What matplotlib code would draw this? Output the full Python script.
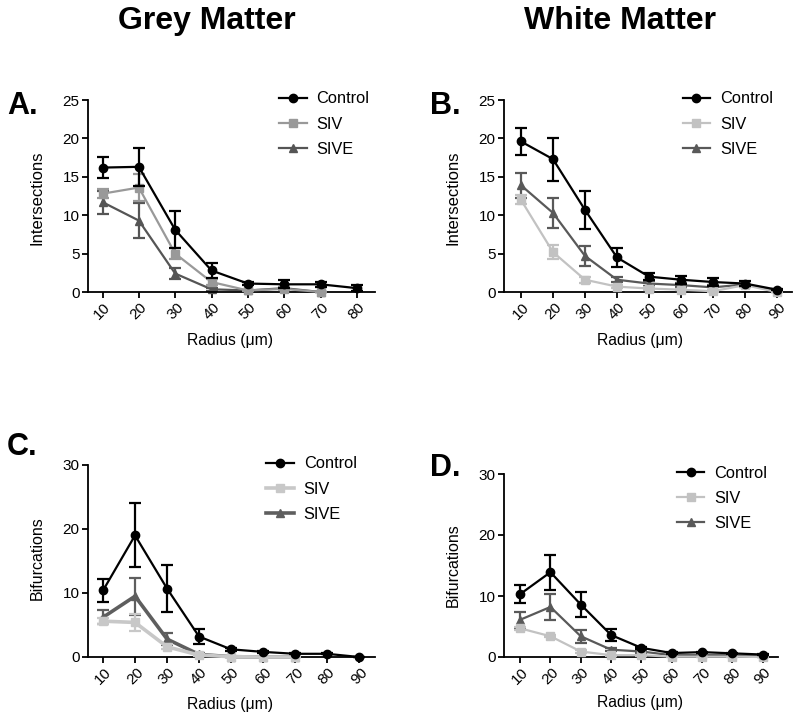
import matplotlib
matplotlib.use("Agg")
import matplotlib.pyplot as plt

plt.rcParams['font.family'] = ['Liberation Sans', 'DejaVu Sans']

# ---------------- data ----------------
radius_A = [10, 20, 30, 40, 50, 60, 70, 80]
radius_A_short = [10, 20, 30, 40, 50, 60, 70]
radius_9 = [10, 20, 30, 40, 50, 60, 70, 80, 90]
radius_C_short = [10, 20, 30, 40, 50, 60, 70]

ctrl_A = [16.2, 16.3, 8.1, 2.8, 1.1, 1.0, 1.0, 0.5]
ctrl_A_err = [1.4, 2.5, 2.4, 1.0, 0.2, 0.5, 0.3, 0.4]
siv_A = [12.8, 13.6, 5.0, 1.3, 0.2, 0.4, 0.0]
siv_A_err = [0.6, 1.8, 0.7, 0.4, 0.1, 0.2, 0.0]
sive_A = [11.7, 9.3, 2.4, 0.35, 0.2, 0.5, 0.0]
sive_A_err = [1.5, 2.3, 0.7, 0.2, 0.1, 0.2, 0.0]

ctrl_B = [19.6, 17.3, 10.7, 4.5, 2.0, 1.6, 1.3, 1.1, 0.3]
ctrl_B_err = [1.7, 2.8, 2.5, 1.2, 0.5, 0.5, 0.5, 0.3, 0.1]
siv_B = [12.0, 5.2, 1.6, 0.7, 0.45, 0.3, 0.1, 0.9, 0.0]
siv_B_err = [0.6, 0.9, 0.4, 0.2, 0.2, 0.1, 0.1, 0.3, 0.0]
sive_B = [13.9, 10.3, 4.7, 1.6, 1.1, 0.9, 0.6, 1.0, 0.1]
sive_B_err = [1.6, 2.0, 1.3, 0.3, 0.3, 0.3, 0.3, 0.3, 0.1]

ctrl_C = [10.4, 19.0, 10.7, 3.2, 1.2, 0.8, 0.5, 0.5, 0.0]
ctrl_C_err = [1.8, 5.0, 3.6, 1.1, 0.2, 0.1, 0.1, 0.1, 0.0]
siv_C = [5.6, 5.4, 1.6, 0.3, 0.05, 0.0, 0.0]
siv_C_err = [0.5, 1.3, 0.4, 0.1, 0.0, 0.0, 0.0]
sive_C = [6.2, 9.5, 2.8, 0.4, 0.05, 0.0, 0.0]
sive_C_err = [1.1, 2.9, 0.9, 0.2, 0.0, 0.0, 0.0]

ctrl_D = [10.3, 13.9, 8.6, 3.6, 1.5, 0.65, 0.8, 0.6, 0.4]
ctrl_D_err = [1.5, 2.9, 2.1, 1.0, 0.2, 0.1, 0.1, 0.1, 0.1]
siv_D = [4.7, 3.4, 0.9, 0.3, 0.3, 0.05, 0.05, 0.05, 0.0]
siv_D_err = [0.3, 0.2, 0.2, 0.1, 0.1, 0.0, 0.0, 0.0, 0.0]
sive_D = [6.1, 8.2, 3.4, 1.2, 0.9, 0.3, 0.3, 0.3, 0.1]
sive_D_err = [1.3, 2.1, 1.1, 0.2, 0.2, 0.1, 0.1, 0.1, 0.1]

series_names = ["Control", "SIV", "SIVE"]

W, H = 800, 719
fig = plt.figure(figsize=(W / 100, H / 100), dpi=100)


def ax_at(x0, y0, x1, y1):
    return fig.add_axes([x0 / W, 1 - y1 / H, (x1 - x0) / W, (y1 - y0) / H])


def make(ax, x_c, c, ce, x_s, s, se, x_e, e, ee, siv_col, sive_col, lw_s, lw_e,
         xlim, ylim, yticks, xticks, anchor):
    h_e = ax.errorbar(x_e, e, yerr=ee, color=sive_col, marker='^', markersize=6,
                      linewidth=lw_e, elinewidth=1.6, capsize=4.5, capthick=1.6,
                      clip_on=False, zorder=2)
    h_s = ax.errorbar(x_s, s, yerr=se, color=siv_col, marker='s', markersize=5.5,
                      linewidth=lw_s, elinewidth=1.6, capsize=4.5, capthick=1.6,
                      clip_on=False, zorder=3)
    h_c = ax.errorbar(x_c, c, yerr=ce, color='black', marker='o', markersize=6,
                      linewidth=1.6, elinewidth=1.6, capsize=4.5, capthick=1.6,
                      clip_on=False, zorder=4)
    for h in (h_e, h_s, h_c):
        h[0].set_clip_on(False)
        for a in h[1]:
            a.set_clip_on(False)
        for a in h[2]:
            a.set_clip_on(False)
    ax.set_xlim(*xlim)
    ax.set_ylim(*ylim)
    ax.set_yticks(yticks)
    ax.set_xticks(xticks)
    ax.set_xticklabels([str(t) for t in xticks], rotation=45, ha='center', va='top')
    for sp in ['top', 'right']:
        ax.spines[sp].set_visible(False)
    for sp in ['left', 'bottom']:
        ax.spines[sp].set_linewidth(1.3)
    ax.tick_params(axis='both', direction='out', length=4, width=1.3,
                   labelsize=11, pad=2)
    ax.tick_params(axis='x', pad=2)
    ax.legend([h_c[0], h_s[0], h_e[0]], series_names,
              loc='upper left', bbox_to_anchor=anchor, frameon=False,
              fontsize=11.8, borderpad=0, borderaxespad=0,
              handlelength=1.7, handletextpad=0.6, labelspacing=0.62)


axA = ax_at(88, 100, 375, 292)
make(axA, radius_A, ctrl_A, ctrl_A_err, radius_A_short, siv_A, siv_A_err,
     radius_A_short, sive_A, sive_A_err, '#999999', '#555555', 1.6, 1.6,
     (6, 85), (0, 25), [0, 5, 10, 15, 20, 25], radius_A, (0.665, 1.045))

axB = ax_at(504, 100, 792, 292)
make(axB, radius_9, ctrl_B, ctrl_B_err, radius_9, siv_B, siv_B_err,
     radius_9, sive_B, sive_B_err, '#c2c2c2', '#595959', 1.6, 1.6,
     (4.7, 94.7), (0, 25), [0, 5, 10, 15, 20, 25], radius_9, (0.62, 1.045))

axC = ax_at(88, 465, 375, 657)
make(axC, radius_9, ctrl_C, ctrl_C_err, radius_C_short, siv_C, siv_C_err,
     radius_C_short, sive_C, sive_C_err, '#c8c8c8', '#5e5e5e', 2.6, 2.6,
     (5.3, 95), (0, 30), [0, 10, 20, 30], radius_9, (0.62, 1.045))

axD = ax_at(504, 474, 778, 657)
make(axD, radius_9, ctrl_D, ctrl_D_err, radius_9, siv_D, siv_D_err,
     radius_9, sive_D, sive_D_err, '#c2c2c2', '#595959', 1.6, 1.6,
     (4.7, 95), (0, 30), [0, 10, 20, 30], radius_9, (0.63, 1.045))

# titles
fig.text(207 / W, 1 - 21 / H, "Grey Matter", fontsize=23, fontweight='bold',
         ha='center', va='center')
fig.text(620 / W, 1 - 21 / H, "White Matter", fontsize=23, fontweight='bold',
         ha='center', va='center')

# panel letters
for lab, x, y in [("A.", 7, 106), ("B.", 430, 106), ("C.", 7, 447), ("D.", 430, 468)]:
    fig.text(x / W, 1 - y / H, lab, fontsize=22, fontweight='bold',
             ha='left', va='center')

# y labels
for lab, x, y, fs in [("Intersections", 37, 198, 12), ("Intersections", 453, 198, 12),
                      ("Bifurcations", 37, 558, 11.5), ("Bifurcations", 453, 565, 11.5)]:
    fig.text(x / W, 1 - y / H, lab, fontsize=fs, rotation=90,
             ha='center', va='center')

# x labels
for x, y in [(230, 340), (640, 340), (230, 705), (640, 702)]:
    fig.text(x / W, 1 - y / H, "Radius (\u03bcm)", fontsize=11.3,
             ha='center', va='center')

fig.savefig("out.png", dpi=100)
